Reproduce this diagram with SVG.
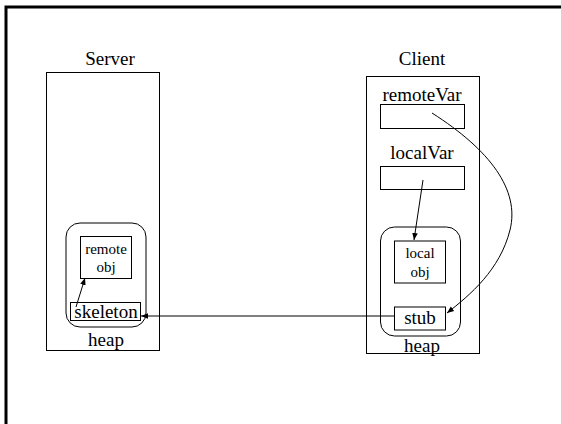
<svg xmlns="http://www.w3.org/2000/svg" width="561" height="424" viewBox="0 0 561 424">
<style>
text{font-family:"Liberation Serif","Times New Roman",serif;fill:#000;text-anchor:middle}
.b{font-size:19px}
.s{font-size:15px}
.box{fill:none;stroke:#000;stroke-width:1}
.c{fill:none;stroke:#000;stroke-width:1}
</style>
<defs>
<marker id="ah" viewBox="0 0 10 10" refX="10" refY="5" markerWidth="7" markerHeight="7" orient="auto" markerUnits="userSpaceOnUse">
<path d="M0,1 L10,5 L0,9 z" fill="#000"/>
</marker>
</defs>
<rect width="561" height="424" fill="#fff"/>
<path d="M6,424 V7 H561" fill="none" stroke="#000" stroke-width="3"/>
<g id="server">
<text class="b" x="110" y="65">Server</text>
<rect class="box" x="46.5" y="72.5" width="113" height="278"/>
<text class="b" x="106" y="346">heap</text>
</g>
<g id="server-heap">
<rect class="box" x="66" y="223" width="80" height="104" rx="14"/>
</g>
<g id="remote-obj">
<rect class="box" x="80.5" y="236.5" width="51" height="42"/>
<text class="s" x="106" y="254">remote</text>
<text class="s" x="106" y="272">obj</text>
</g>
<g id="skeleton">
<rect class="box" x="70.5" y="302.5" width="70" height="18"/>
<text class="b" x="106" y="318">skeleton</text>
</g>
<g id="client">
<text class="b" x="422" y="65">Client</text>
<rect class="box" x="366.5" y="76.5" width="113" height="277"/>
<text class="b" x="422" y="352">heap</text>
</g>
<g id="remoteVar">
<text class="b" x="422" y="101">remoteVar</text>
<rect class="box" x="380.5" y="104.5" width="84" height="24"/>
</g>
<g id="localVar">
<text class="b" x="422" y="159">localVar</text>
<rect class="box" x="380.5" y="166.5" width="84" height="23"/>
</g>
<g id="client-heap">
<rect class="box" x="380.5" y="227" width="80" height="109" rx="14"/>
</g>
<g id="local-obj">
<rect class="box" x="394.5" y="241" width="51" height="42"/>
<text class="s" x="420" y="258">local</text>
<text class="s" x="420" y="277">obj</text>
</g>
<g id="stub">
<rect class="box" x="394.5" y="307" width="51" height="23"/>
<text class="b" x="420" y="324">stub</text>
</g>
<g id="connectors">
<path class="c" d="M423,180 L414,240" marker-end="url(#ah)"/>
<path class="c" d="M432,113 C490,150 520,190 510,230 C500,270 470,295 447,313" marker-end="url(#ah)"/>
<path class="c" d="M394,316 L141,316" marker-end="url(#ah)"/>
<path class="c" d="M76,307 L85,278" marker-end="url(#ah)"/>
</g>
</svg>
